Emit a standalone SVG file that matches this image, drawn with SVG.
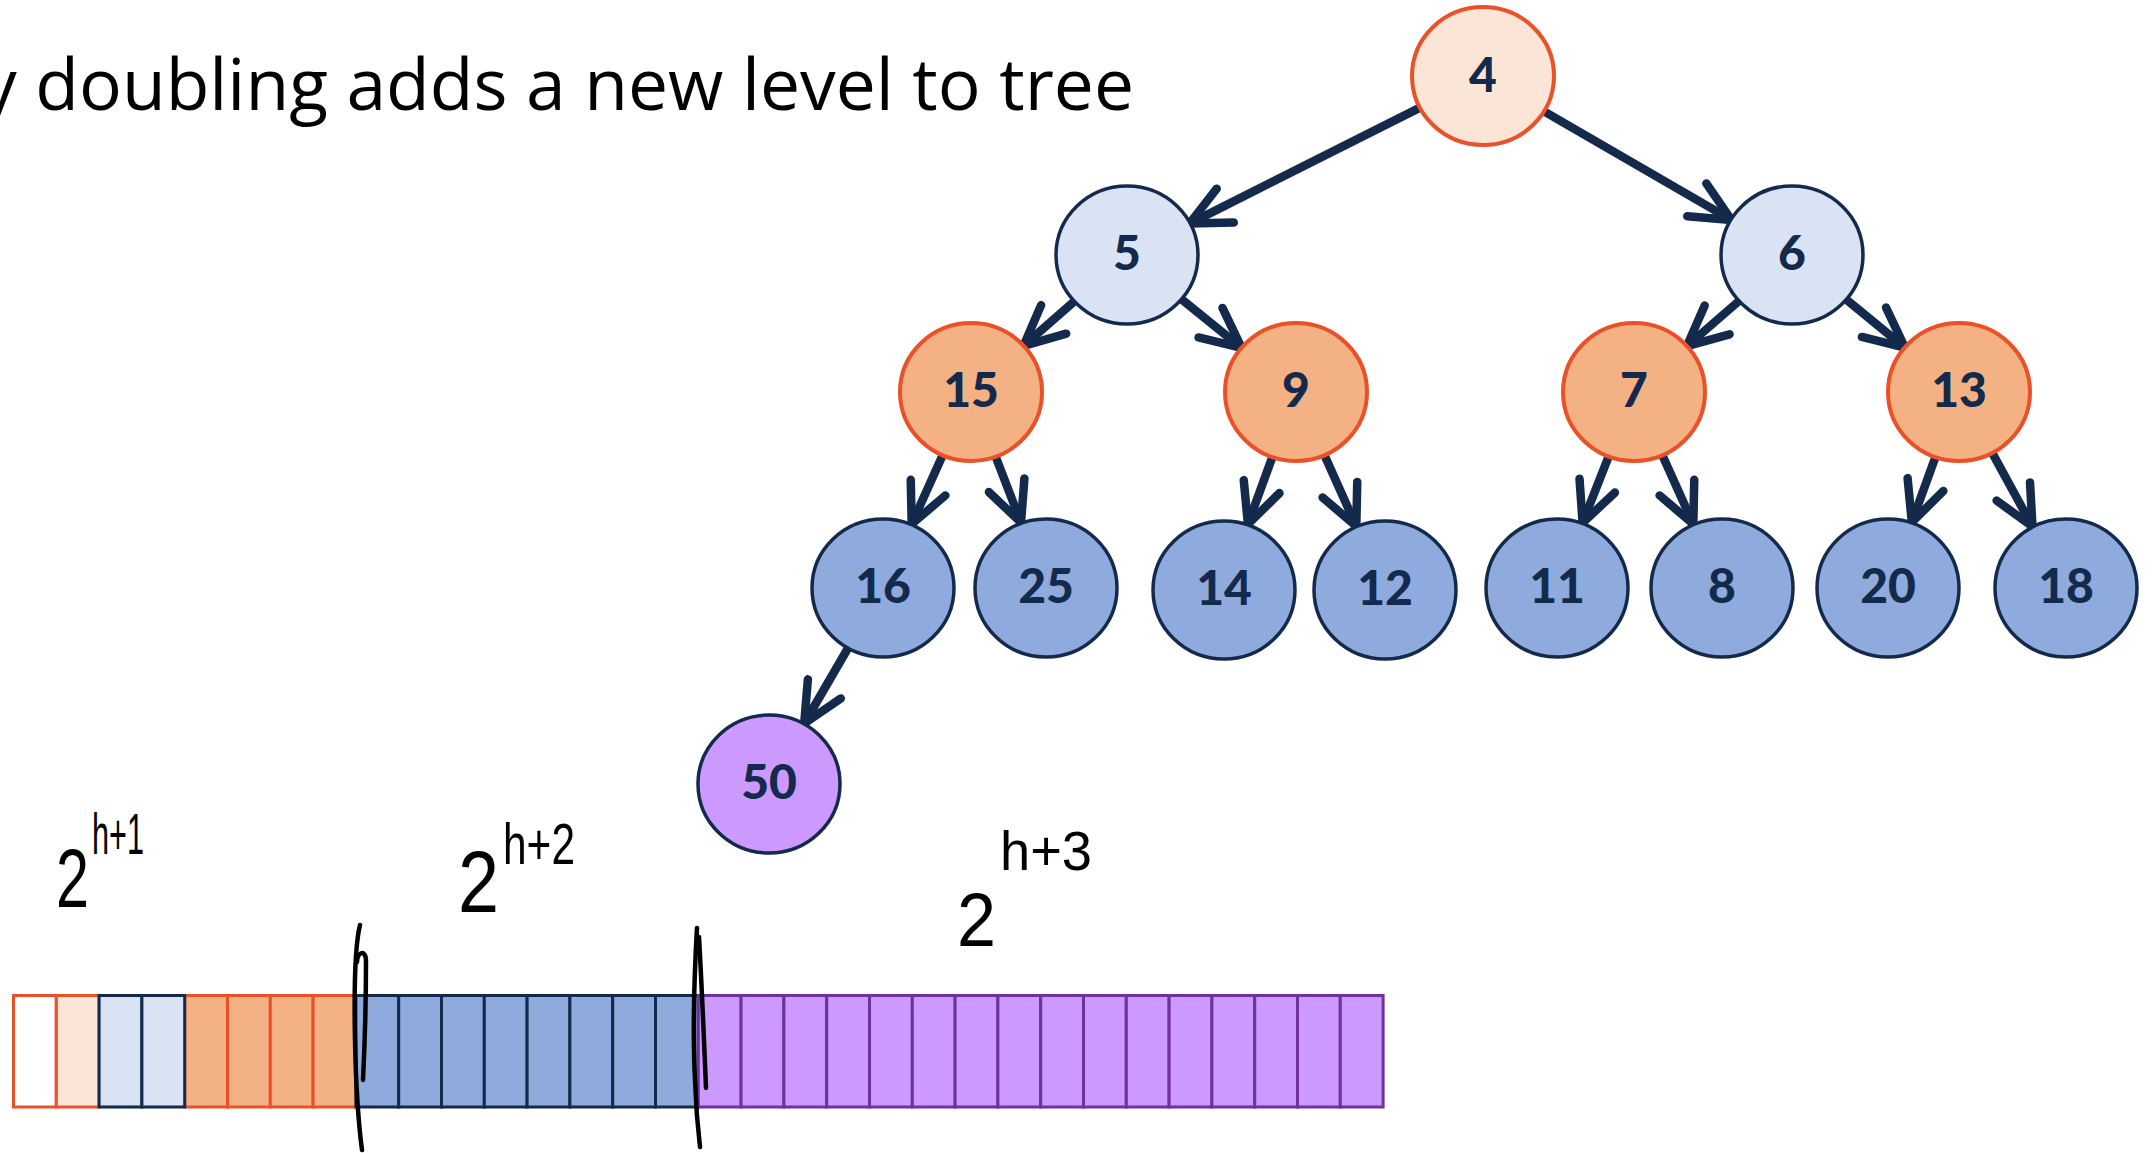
<svg xmlns="http://www.w3.org/2000/svg" width="2153" height="1153" viewBox="0 0 2153 1153">
  <style>
    .title { font-family: "Open Sans", "Noto Sans", "Liberation Sans", sans-serif; font-size: 72px; fill: #000; }
    .lbl { font-family: Lato, "Open Sans", "Liberation Sans", sans-serif; font-weight: 900; font-size: 48px; fill: #142A4C; text-anchor: middle; }
    .ink { font-family: "Liberation Sans", "DejaVu Sans", sans-serif; fill: #000; }
    .peach { fill: #FBE5D6; stroke: #EA5128; stroke-width: 4; }
    .lblue { fill: #DAE3F3; stroke: #142A4C; stroke-width: 3.5; }
    .orange { fill: #F4B183; stroke: #EA5128; stroke-width: 4; }
    .blue { fill: #8FAADC; stroke: #142A4C; stroke-width: 3.5; }
    .purple { fill: #CC99FF; stroke: #142A4C; stroke-width: 3.5; }
    .edge { stroke: #142A4C; stroke-width: 8.5; fill: none; marker-end: url(#arrow); }
    .cell { stroke-width: 3; }
    .c-white { fill: #FFFFFF; stroke: #EA5128; }
    .c-peach { fill: #FBE5D6; stroke: #EA5128; }
    .c-lblue { fill: #DAE3F3; stroke: #142A4C; }
    .c-orange { fill: #F4B183; stroke: #EA5128; }
    .c-blue { fill: #8FAADC; stroke: #142A4C; }
    .c-purple { fill: #CC99FF; stroke: #7030A0; }
    .pen { fill: none; stroke: #000; stroke-width: 4.5; stroke-linecap: round; stroke-linejoin: round; }
  </style>
  <defs>
    <marker id="arrow" markerUnits="userSpaceOnUse" orient="auto" viewBox="-50 -28 56 56" refX="0" refY="0" markerWidth="56" markerHeight="56">
      <path d="M -40,-19 L 0,0 L -40,19" fill="none" stroke="#142A4C" stroke-width="8.5" stroke-linecap="round" stroke-linejoin="round"/>
    </marker>
  </defs>

  <rect width="2153" height="1153" fill="#FFFFFF"/>

  <text id="title" class="title" x="-19" y="110" textLength="1153" lengthAdjust="spacingAndGlyphs">y doubling adds a new level to tree</text>

  <!-- parent to child connectors -->
  <g id="edges">
    <line class="edge" x1="1420.5" y1="107.4" x2="1189.5" y2="223.6"/>
    <line class="edge" x1="1543.6" y1="111.1" x2="1731.4" y2="219.9"/>
    <line class="edge" x1="1074.4" y1="301.2" x2="1023.6" y2="345.8"/>
    <line class="edge" x1="1181.4" y1="299.1" x2="1241.6" y2="347.9"/>
    <line class="edge" x1="1739.1" y1="300.9" x2="1686.9" y2="346.1"/>
    <line class="edge" x1="1846.1" y1="299.4" x2="1904.9" y2="347.6"/>
    <line class="edge" x1="942.3" y1="455.9" x2="911.7" y2="524.1"/>
    <line class="edge" x1="996" y1="457.4" x2="1021" y2="522.6"/>
    <line class="edge" x1="1272.1" y1="457.8" x2="1247.9" y2="524.2"/>
    <line class="edge" x1="1324.7" y1="455.8" x2="1356.3" y2="526.2"/>
    <line class="edge" x1="1608.4" y1="457.1" x2="1582.6" y2="522.9"/>
    <line class="edge" x1="1662.7" y1="455.9" x2="1693.3" y2="524.1"/>
    <line class="edge" x1="1935.2" y1="457.8" x2="1911.8" y2="522.2"/>
    <line class="edge" x1="1992.5" y1="453.4" x2="2032.5" y2="526.6"/>
    <line class="edge" x1="847.8" y1="648.5" x2="804.2" y2="723.5"/>
  </g>

  <!-- heap nodes -->
  <g id="n4"><ellipse class="peach" cx="1483" cy="76" rx="71" ry="69"/><text class="lbl" x="1483" y="92">4</text></g>
  <g id="n5"><ellipse class="lblue" cx="1127" cy="255" rx="71" ry="69"/><text class="lbl" x="1127" y="270">5</text></g>
  <g id="n6"><ellipse class="lblue" cx="1792" cy="255" rx="71" ry="69"/><text class="lbl" x="1792" y="270">6</text></g>
  <g id="n15"><ellipse class="orange" cx="971" cy="392" rx="71" ry="69"/><text class="lbl" x="971" y="407">15</text></g>
  <g id="n9"><ellipse class="orange" cx="1296" cy="392" rx="71" ry="69"/><text class="lbl" x="1296" y="407">9</text></g>
  <g id="n7"><ellipse class="orange" cx="1634" cy="392" rx="71" ry="69"/><text class="lbl" x="1634" y="407">7</text></g>
  <g id="n13"><ellipse class="orange" cx="1959" cy="392" rx="71" ry="69"/><text class="lbl" x="1959" y="407">13</text></g>
  <g id="n16"><ellipse class="blue" cx="883" cy="588" rx="71" ry="69"/><text class="lbl" x="883" y="603">16</text></g>
  <g id="n25"><ellipse class="blue" cx="1046" cy="588" rx="71" ry="69"/><text class="lbl" x="1046" y="603">25</text></g>
  <g id="n14"><ellipse class="blue" cx="1224" cy="590" rx="71" ry="69"/><text class="lbl" x="1224" y="605">14</text></g>
  <g id="n12"><ellipse class="blue" cx="1385" cy="590" rx="71" ry="69"/><text class="lbl" x="1385" y="605">12</text></g>
  <g id="n11"><ellipse class="blue" cx="1557" cy="588" rx="71" ry="69"/><text class="lbl" x="1557" y="603">11</text></g>
  <g id="n8"><ellipse class="blue" cx="1722" cy="588" rx="71" ry="69"/><text class="lbl" x="1722" y="603">8</text></g>
  <g id="n20"><ellipse class="blue" cx="1888" cy="588" rx="71" ry="69"/><text class="lbl" x="1888" y="603">20</text></g>
  <g id="n18"><ellipse class="blue" cx="2066" cy="588" rx="71" ry="69"/><text class="lbl" x="2066" y="603">18</text></g>
  <g id="n50"><ellipse class="purple" cx="769" cy="784" rx="71" ry="69"/><text class="lbl" x="769" y="799">50</text></g>

  <!-- array backing store: 32 slots, cell width 42.8 -->
  <g id="array" class="cell">
    <rect class="c-white" x="13.5" y="995.5" width="42.8" height="111.5"/>
    <rect class="c-peach" x="56.3" y="995.5" width="42.8" height="111.5"/>
    <rect class="c-orange" x="184.7" y="995.5" width="42.8" height="111.5"/>
    <rect class="c-orange" x="227.5" y="995.5" width="42.8" height="111.5"/>
    <rect class="c-orange" x="270.3" y="995.5" width="42.8" height="111.5"/>
    <rect class="c-orange" x="313.1" y="995.5" width="42.8" height="111.5"/>
    <rect class="c-lblue" x="99.1" y="995.5" width="42.8" height="111.5"/>
    <rect class="c-lblue" x="141.9" y="995.5" width="42.8" height="111.5"/>
    <rect class="c-blue" x="355.9" y="995.5" width="42.8" height="111.5"/>
    <rect class="c-blue" x="398.7" y="995.5" width="42.8" height="111.5"/>
    <rect class="c-blue" x="441.5" y="995.5" width="42.8" height="111.5"/>
    <rect class="c-blue" x="484.3" y="995.5" width="42.8" height="111.5"/>
    <rect class="c-blue" x="527.1" y="995.5" width="42.8" height="111.5"/>
    <rect class="c-blue" x="569.9" y="995.5" width="42.8" height="111.5"/>
    <rect class="c-blue" x="612.7" y="995.5" width="42.8" height="111.5"/>
    <rect class="c-blue" x="655.5" y="995.5" width="42.8" height="111.5"/>
    <rect class="c-purple" x="698.3" y="995.5" width="42.8" height="111.5"/>
    <rect class="c-purple" x="741.1" y="995.5" width="42.8" height="111.5"/>
    <rect class="c-purple" x="783.9" y="995.5" width="42.8" height="111.5"/>
    <rect class="c-purple" x="826.7" y="995.5" width="42.8" height="111.5"/>
    <rect class="c-purple" x="869.5" y="995.5" width="42.8" height="111.5"/>
    <rect class="c-purple" x="912.3" y="995.5" width="42.8" height="111.5"/>
    <rect class="c-purple" x="955.1" y="995.5" width="42.8" height="111.5"/>
    <rect class="c-purple" x="997.9" y="995.5" width="42.8" height="111.5"/>
    <rect class="c-purple" x="1040.7" y="995.5" width="42.8" height="111.5"/>
    <rect class="c-purple" x="1083.5" y="995.5" width="42.8" height="111.5"/>
    <rect class="c-purple" x="1126.3" y="995.5" width="42.8" height="111.5"/>
    <rect class="c-purple" x="1169.1" y="995.5" width="42.8" height="111.5"/>
    <rect class="c-purple" x="1211.9" y="995.5" width="42.8" height="111.5"/>
    <rect class="c-purple" x="1254.7" y="995.5" width="42.8" height="111.5"/>
    <rect class="c-purple" x="1297.5" y="995.5" width="42.8" height="111.5"/>
    <rect class="c-purple" x="1340.3" y="995.5" width="42.8" height="111.5"/>
  </g>

  <!-- pen marks splitting the array -->
  <g id="dividers" class="pen">
    <path d="M 360,925 C 355,945 354,990 355,1040 C 356,1090 358,1120 362,1150"/>
    <path d="M 357,962 C 357,951 366,950 366,960 C 366,1000 365,1040 363,1080"/>
    <path d="M 697,928 C 694,980 693,1040 695,1080 C 696,1110 698,1130 700,1147"/>
    <path d="M 699,937 C 702,990 704,1040 706,1088"/>
  </g>

  <!-- hand-written sizes -->
  <g id="sizes" class="ink">
    <text x="56" y="907" font-size="84" textLength="33" lengthAdjust="spacingAndGlyphs">2</text>
    <text x="92" y="854" font-size="58" textLength="52" lengthAdjust="spacingAndGlyphs">h+1</text>
    <text x="458" y="912" font-size="88" textLength="41" lengthAdjust="spacingAndGlyphs">2</text>
    <text x="503" y="864" font-size="58" textLength="72" lengthAdjust="spacingAndGlyphs">h+2</text>
    <text x="957" y="946" font-size="76" textLength="39" lengthAdjust="spacingAndGlyphs">2</text>
    <text x="1000" y="870" font-size="55" textLength="92" lengthAdjust="spacingAndGlyphs">h+3</text>
  </g>
</svg>
